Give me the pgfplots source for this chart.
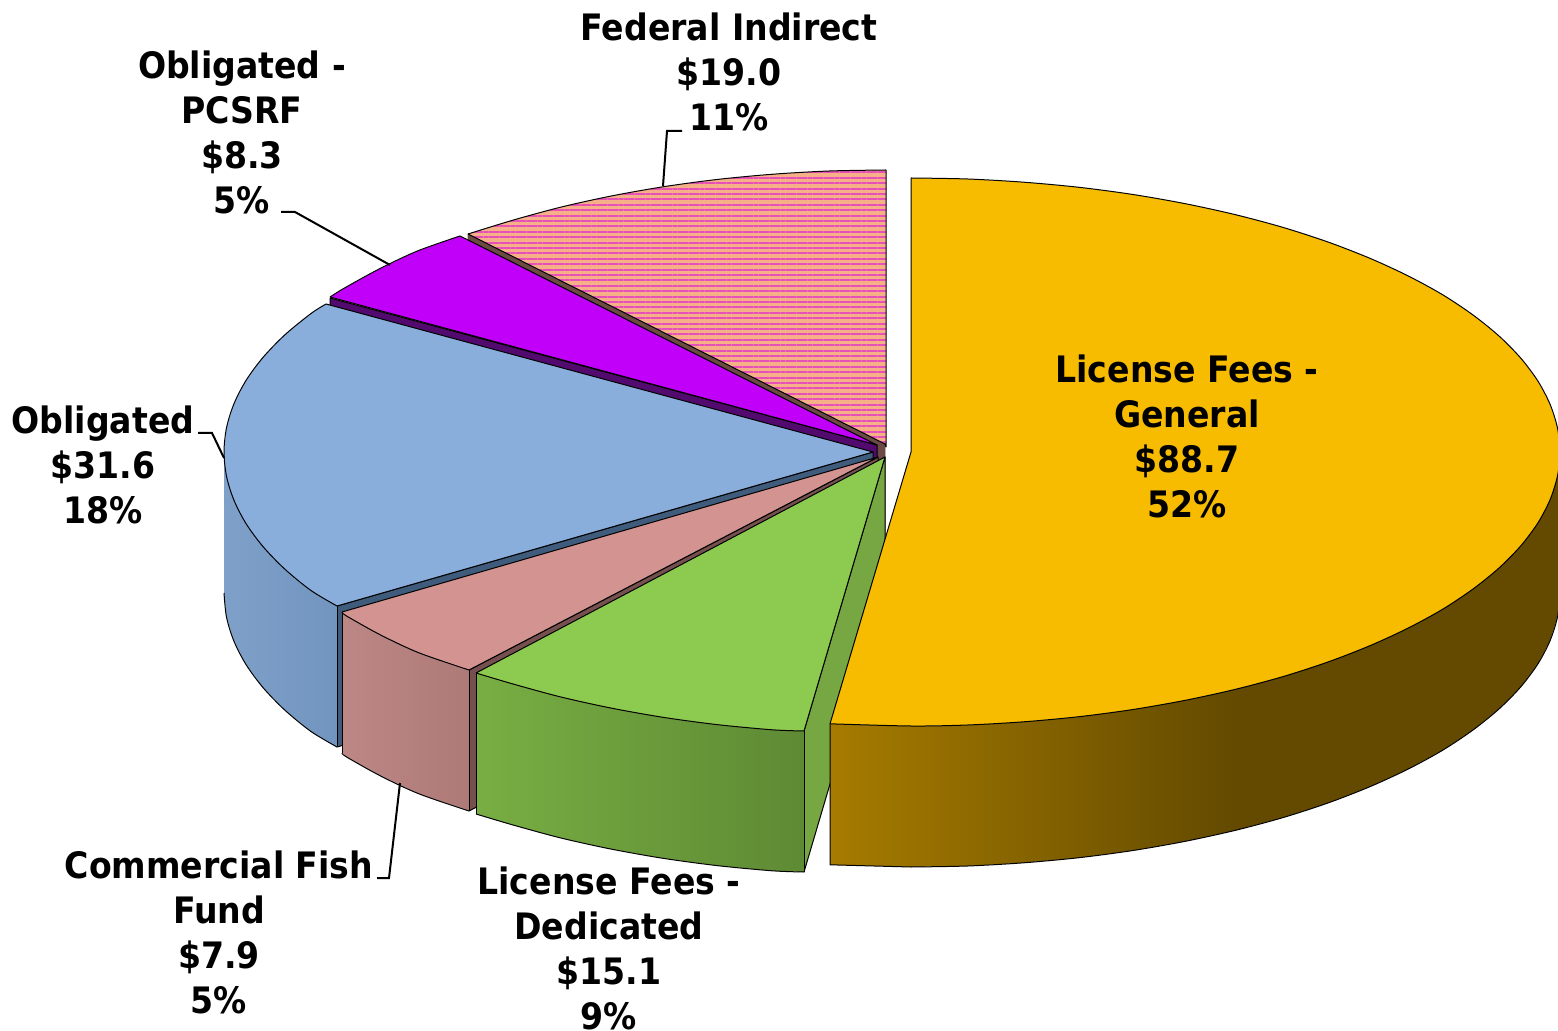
\documentclass[border=0pt]{standalone}
\usepackage{fontspec}
\setmainfont{DejaVu Sans}[FakeStretch=0.91]
\usepackage{pgfplots}
\usepackage{pgfplotstable}
\pgfplotsset{compat=1.18}
\usetikzlibrary{patterns.meta}

% outlines are in picture pixels, y downwards
\pgfplotstableread{
x y
886 170
829.3 171
773.2 174.2
717.8 179.4
663.7 186.7
611.3 196
561 207.1
513.2 220.1
468 234
885 444
886 447
886 170
}\federal

\definecolor{gold}{HTML}{F7BC00}
\definecolor{goldA}{HTML}{A67B00}
\definecolor{goldB}{HTML}{634A00}
\definecolor{leaf}{HTML}{8DCB50}
\definecolor{leafA}{HTML}{78AE43}
\definecolor{leafB}{HTML}{5E8A34}
\definecolor{leafcut}{HTML}{76A743}
\definecolor{rose}{HTML}{D39391}
\definecolor{roseA}{HTML}{BC8785}
\definecolor{roseB}{HTML}{AE7A77}
\definecolor{rosecut}{HTML}{75504E}
\definecolor{sky}{HTML}{8AAEDC}
\definecolor{skyA}{HTML}{7EA0C9}
\definecolor{skyB}{HTML}{7295BF}
\definecolor{skycut}{HTML}{3F5C7C}
\definecolor{violet}{HTML}{C000F8}
\definecolor{violetcut}{HTML}{530A6E}
\definecolor{salmon}{HTML}{F6B088}
\definecolor{stripe}{HTML}{E650B8}
\definecolor{fedcut}{HTML}{6B4A44}

\tikzset{
  edge/.style={draw=black,line width=.5pt,line join=round},
  arc/.style={edge,smooth},
  lab/.style={font=\fontsize{18.2}{22.5}\selectfont\bfseries,align=center,inner sep=0pt,anchor=center},
  lead/.style={draw=black,line width=1pt},
}

\begin{document}
\begin{tikzpicture}
\begin{axis}[
  scale only axis, width=779pt, height=515.5pt,
  xmin=0, xmax=1558, ymin=0, ymax=1031,
  y dir=reverse, hide axis, clip=false, no markers,
]
% Federal Indirect
\addplot[fedcut,fill=fedcut,line width=.4pt] coordinates {(468,234)(885,444)(885,585)(468,375)(468,234)};
\addplot[draw=none,fill=salmon] table {\federal};
\addplot[draw=none,pattern={Lines[angle=0,distance=2.7pt,line width=1pt]},pattern color=stripe] table {\federal};
\addplot[arc] coordinates {(886,170)(829.3,171)(773.2,174.2)(717.8,179.4)(663.7,186.7)(611.3,196)(561,207.1)(513.2,220.1)(468,234)};
\addplot[edge] coordinates {(468,234)(885,444)(886,447)(886,170)};
% Obligated - PCSRF
\addplot[edge,fill=violetcut] coordinates {(330,298)(877,445)(877,586)(330,439)(330,298)};
\addplot[draw=none,fill=violet] coordinates {(460,236)(417.4,251)(379.1,269)(344.5,288)(330,297)(877,445)(460,236)};
\addplot[arc] coordinates {(460,236)(417.4,251)(379.1,269)(344.5,288)(330,297)};
\addplot[edge] coordinates {(330,297)(877,445)(460,236)};
% Obligated
\addplot[edge,fill=skycut] coordinates {(337,606)(873,452)(873,593)(337,747)(337,606)};
\addplot[draw=none,left color=skyA,right color=skyB] coordinates {
  (224,452)(226.5,476.2)(233.9,500.1)(246.1,523.7)(263.1,546.7)(284.8,569.1)(311,590.5)(337,606)
  (337,747)(311,731.5)(284.8,710.1)(263.1,687.7)(246.1,664.7)(233.9,641.1)(226.5,617.2)(224,593)(224,452)};
\addplot[arc] coordinates {(224,593)(226.5,617.2)(233.9,641.1)(246.1,664.7)(263.1,687.7)(284.8,710.1)(311,731.5)(337,747)};
\addplot[edge] coordinates {(337,606)(337,747)};
\addplot[draw=none,fill=sky] coordinates {
  (326,304)(311,313.5)(284.8,334.9)(263.1,357.3)(246.1,380.3)(233.9,403.9)(226.5,427.8)(224,452)
  (226.5,476.2)(233.9,500.1)(246.1,523.7)(263.1,546.7)(284.8,569.1)(311,590.5)(337,606)(873,452)(326,304)};
\addplot[arc] coordinates {(326,304)(311,313.5)(284.8,334.9)(263.1,357.3)(246.1,380.3)(233.9,403.9)(226.5,427.8)(224,452)
  (226.5,476.2)(233.9,500.1)(246.1,523.7)(263.1,546.7)(284.8,569.1)(311,590.5)(337,606)};
\addplot[edge] coordinates {(337,606)(873,452)(326,304)};
% Commercial Fish Fund
\addplot[edge,fill=rosecut] coordinates {(469,670)(878,457)(878,598)(469,811)(469,670)};
\addplot[draw=none,left color=roseA,right color=roseB] coordinates {
  (342,612)(346.4,615.9)(380.8,635.1)(419.1,652.9)(469,670)
  (469,811)(419.1,793.9)(380.8,776.1)(346.4,756.9)(342,753)(342,612)};
\addplot[arc] coordinates {(342,753)(346.4,756.9)(380.8,776.1)(419.1,793.9)(469,811)};
\addplot[edge] coordinates {(342,753)(342,612)};
\addplot[edge] coordinates {(469,670)(469,811)};
\addplot[draw=none,fill=rose] coordinates {(342,612)(346.4,615.9)(380.8,635.1)(419.1,652.9)(469,670)(878,457)(342,612)};
\addplot[arc] coordinates {(342,612)(346.4,615.9)(380.8,635.1)(419.1,652.9)(469,670)};
\addplot[edge] coordinates {(469,670)(878,457)(342,612)};
% License Fees - Dedicated
\addplot[edge,fill=leafcut] coordinates {(804,731)(885,457)(885,598)(804,872)(804,731)};
\addplot[draw=none,left color=leafA,right color=leafB] coordinates {
  (476,673)(512.7,683.9)(560.5,696.9)(610.7,708)(663,717.3)(717,724.6)(772.3,729.8)(804,731)
  (804,872)(772.3,870.8)(717,865.6)(663,858.3)(610.7,849)(560.5,837.9)(512.7,824.9)(476,814)(476,673)};
\addplot[arc] coordinates {(804,872)(772.3,870.8)(717,865.6)(663,858.3)(610.7,849)(560.5,837.9)(512.7,824.9)(476,814)};
\addplot[edge] coordinates {(476,814)(476,673)};
\addplot[edge] coordinates {(804,731)(804,872)};
\addplot[draw=none,fill=leaf] coordinates {
  (476,673)(512.7,683.9)(560.5,696.9)(610.7,708)(663,717.3)(717,724.6)(772.3,729.8)(804,731)(885,457)(476,673)};
\addplot[arc] coordinates {(476,673)(512.7,683.9)(560.5,696.9)(610.7,708)(663,717.3)(717,724.6)(772.3,729.8)(804,731)};
\addplot[edge] coordinates {(804,731)(885,457)(476,673)};
% License Fees - General
\addplot[draw=none,left color=goldA,right color=goldB] coordinates {
  (830,723.8)(911,726)(967.6,725)(1023.7,721.8)(1078.9,716.7)(1133,709.5)(1185.3,700.3)(1235.5,689.3)
  (1235.5,830.3)(1185.3,841.3)(1133,850.5)(1078.9,857.7)(1023.7,862.8)(967.6,866)(911,867)(830,864.8)(830,723.8)};
\addplot[draw=none,fill=goldB] coordinates {
  (1235,689.4)(1283.3,676.5)(1328.2,661.9)(1369.9,645.7)(1408.1,628.1)(1442.7,609.2)(1473,589)(1499.2,567.8)(1520.9,545.7)(1537.9,522.9)(1550.1,499.6)(1557.5,475.9)(1560,452)
  (1560,593)(1557.5,616.9)(1550.1,640.6)(1537.9,663.9)(1520.9,686.7)(1499.2,708.8)(1473,730)(1442.7,750.2)(1408.1,769.1)(1369.9,786.7)(1328.2,802.9)(1283.3,817.5)(1235,830.4)(1235,689.4)};
\addplot[arc] coordinates {
  (911,867)(967.6,866)(1023.7,862.8)(1078.9,857.7)(1133,850.5)(1185.3,841.3)(1235.5,830.3)(1283.3,817.5)(1328.2,802.9)(1369.9,786.7)(1408.1,769.1)(1442.7,750.2)(1473,730)(1499.2,708.8)(1520.9,686.7)(1537.9,663.9)(1550.1,640.6)(1557.5,616.9)(1560,593)};
\addplot[edge] coordinates {(830,723.8)(830,864.8)(911,867)};
\addplot[draw=none,fill=gold] coordinates {
  (911,178)(967.6,179)(1023.7,182.2)(1078.9,187.3)(1133,194.5)(1185.3,203.7)(1235.5,214.7)(1283.3,227.5)(1328.2,242.1)(1369.9,258.3)(1408.1,275.9)(1442.7,294.8)(1473,315)(1499.2,336.2)(1520.9,358.3)(1537.9,381.1)(1550.1,404.4)(1557.5,428.1)(1560,452)
  (1557.5,475.9)(1550.1,499.6)(1537.9,522.9)(1520.9,545.7)(1499.2,567.8)(1473,589)(1442.7,609.2)(1408.1,628.1)(1369.9,645.7)(1328.2,661.9)(1283.3,676.5)(1235.5,689.3)(1185.3,700.3)(1133,709.5)(1078.9,716.7)(1023.7,721.8)(967.6,725)(911,726)(830,723.8)(911,452)(911,178)};
\addplot[arc] coordinates {
  (911,178)(967.6,179)(1023.7,182.2)(1078.9,187.3)(1133,194.5)(1185.3,203.7)(1235.5,214.7)(1283.3,227.5)(1328.2,242.1)(1369.9,258.3)(1408.1,275.9)(1442.7,294.8)(1473,315)(1499.2,336.2)(1520.9,358.3)(1537.9,381.1)(1550.1,404.4)(1557.5,428.1)(1560,452)
  (1557.5,475.9)(1550.1,499.6)(1537.9,522.9)(1520.9,545.7)(1499.2,567.8)(1473,589)(1442.7,609.2)(1408.1,628.1)(1369.9,645.7)(1328.2,661.9)(1283.3,676.5)(1235.5,689.3)(1185.3,700.3)(1133,709.5)(1078.9,716.7)(1023.7,721.8)(967.6,725)(911,726)(830,723.8)};
\addplot[edge] coordinates {(830,723.8)(911,452)(911,178)};
% leader lines
\addplot[lead] coordinates {(663,186)(667,131)(682,131)};
\addplot[lead] coordinates {(390,265)(295,212)(281,212)};
\addplot[lead] coordinates {(224,458)(212,433)(198,433)};
\addplot[lead] coordinates {(400,783)(389,878)(377,878)};
% labels
\node[lab] at (axis cs:729,72) {Federal Indirect\\\$19.0\\11\%};
\node[lab] at (axis cs:242,132.5) {Obligated -\\PCSRF\\\$8.3\\5\%};
\node[lab] at (axis cs:103,465) {Obligated\\\$31.6\\18\%};
\node[lab] at (axis cs:219,932.5) {Commercial Fish\\Fund\\\$7.9\\5\%};
\node[lab] at (axis cs:609,948.5) {License Fees -\\Dedicated\\\$15.1\\9\%};
\node[lab] at (axis cs:1187,436.5) {License Fees -\\General\\\$88.7\\52\%};
\end{axis}
\pgfresetboundingbox
\useasboundingbox (0,0) rectangle (779pt,515.5pt);
\end{tikzpicture}
\end{document}
